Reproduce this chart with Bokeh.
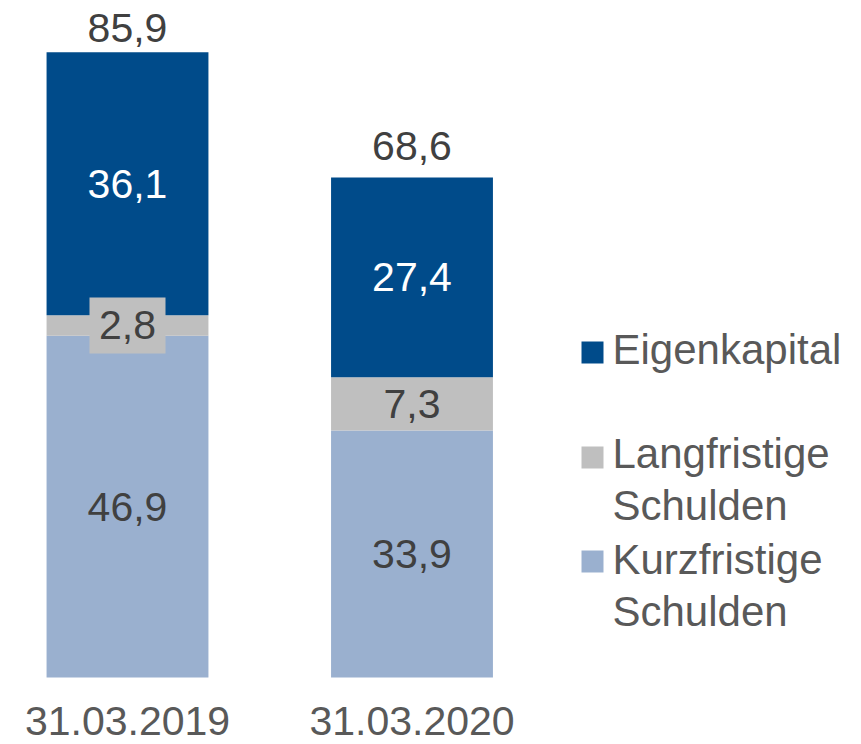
from bokeh.plotting import figure
from bokeh.models import ColumnDataSource, Range1d
from bokeh.core.properties import value
from bokeh.embed import file_html
from bokeh.resources import INLINE

# ---- data ----
categories = ["31.03.2019", "31.03.2020"]
kurzfristige = [46.9, 33.9]
langfristige = [2.8, 7.3]
eigenkapital = [36.1, 27.4]
totals = [85.9, 68.6]
series_names = ["Eigenkapital", "Langfristige\nSchulden", "Kurzfristige\nSchulden"]

# ---- style ----
C_EK = "#004B8A"
C_LF = "#BFBFBF"
C_KF = "#9AB0CF"
TXT_DARK = "#404040"
TXT_GREY = "#595959"
FONT = "Liberation Sans"
FS = "41px"
FS_LEG = "42px"

W, H = 861, 744
PXX = 284.5          # pixels per category step
PXY = 7.288          # pixels per value unit
XS = -127 / PXX
XE = XS + W / PXX
YS = -(H - 677) / PXY
YE = YS + H / PXY


def px_x(page_x):
    return XS + page_x / PXX


def px_y(page_y):
    return YE - page_y / PXY


fmt = lambda v: f"{v:.1f}".replace(".", ",")

p = figure(width=W, height=H, output_backend="svg", toolbar_location=None,
           x_range=Range1d(XS, XE), y_range=Range1d(YS, YE), min_border=0,
           background_fill_color="white", border_fill_color="white")
p.axis.visible = False
p.grid.visible = False
p.outline_line_color = None

xs = list(range(len(categories)))
bar_w = 0.569

b1 = kurzfristige
b2 = [a + b for a, b in zip(kurzfristige, langfristige)]
b3 = [a + b for a, b in zip(b2, eigenkapital)]

p.vbar(x=xs, bottom=[0] * len(xs), top=b1, width=bar_w, color=C_KF, line_color=None)
p.vbar(x=xs, bottom=b1, top=b2, width=bar_w, color=C_LF, line_color=None)
p.vbar(x=xs, bottom=b2, top=b3, width=bar_w, color=C_EK, line_color=None)

# label box behind gray segments too thin for their label
box_h = 56
small = [i for i in xs if langfristige[i] * PXY < 41]
if small:
    p.rect(x=[xs[i] for i in small],
           y=[kurzfristige[i] + langfristige[i] / 2 for i in small],
           width=76, height=box_h, width_units="screen", height_units="screen",
           color=C_LF, line_color=None)


def seg_labels(bottoms, vals, color):
    src = ColumnDataSource(dict(x=xs, y=[b + v / 2 for b, v in zip(bottoms, vals)],
                                t=[fmt(v) for v in vals]))
    p.text(x="x", y="y", text="t", source=src, text_align="center",
           text_baseline="middle", text_font=value(FONT), text_font_size=FS,
           text_color=color)


seg_labels([0] * len(xs), kurzfristige, TXT_DARK)
seg_labels(b1, langfristige, TXT_DARK)
seg_labels(b2, eigenkapital, "white")

# totals (centre 32px above bar top, kept inside the top edge)
gap = 32 / PXY
ymax_lab = px_y(27)
tsrc = ColumnDataSource(dict(x=xs, y=[min(t + gap, ymax_lab) for t in totals],
                             t=[fmt(t) for t in totals]))
p.text(x="x", y="y", text="t", source=tsrc, text_align="center",
       text_baseline="middle", text_font=value(FONT), text_font_size=FS,
       text_color=TXT_DARK)

# category labels
csrc = ColumnDataSource(dict(x=xs, y=[px_y(720)] * len(xs), t=categories))
p.text(x="x", y="y", text="t", source=csrc, text_align="center",
       text_baseline="middle", text_font=value(FONT), text_font_size=FS,
       text_color=TXT_GREY)

# legend
leg_colors = [C_EK, C_LF, C_KF]
sq_y = [352, 457, 561]
first_center = [349, 453, 559]
line_gap = 52
p.rect(x=[px_x(592)] * 3, y=[px_y(v) for v in sq_y], width=22, height=22,
       width_units="screen", height_units="screen", color=leg_colors, line_color=None)
lx, ly, lt = [], [], []
for name, c in zip(series_names, first_center):
    for k, line in enumerate(name.split("\n")):
        lx.append(px_x(612))
        ly.append(px_y(c + k * line_gap))
        lt.append(line)
p.text(x=lx, y=ly, text=lt, text_align="left", text_baseline="middle",
       text_font=value(FONT), text_font_size=FS_LEG, text_color=TXT_GREY)

open("out.html", "w").write(file_html(p, INLINE))
